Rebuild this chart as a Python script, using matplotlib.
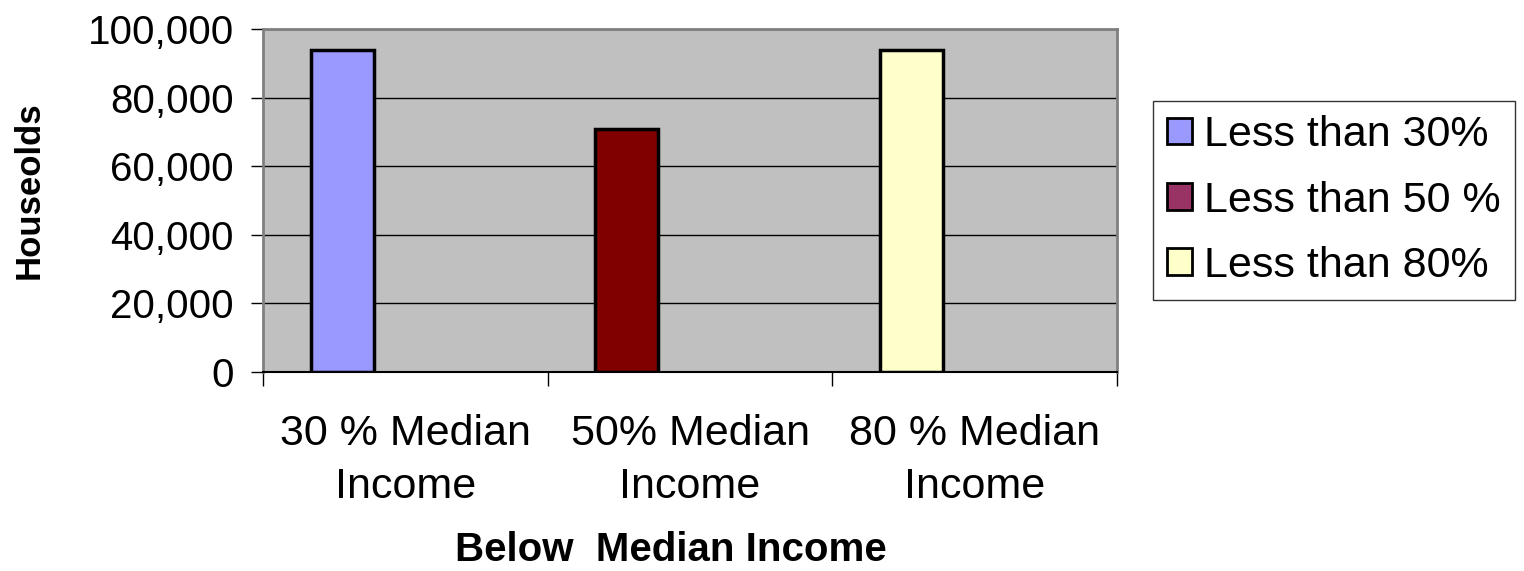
import numpy as np
import matplotlib.pyplot as plt
from matplotlib.patches import Patch
from matplotlib.ticker import FuncFormatter

plt.rcParams['font.family'] = ['Liberation Sans', 'DejaVu Sans']

categories = ['30 % Median\nIncome', '50% Median\nIncome', '80 % Median\nIncome']
series_names = ['Less than 30%', 'Less than 50 %', 'Less than 80%']
households = [94000, 71000, 94000]
bar_colors = ['#9999FF', '#800000', '#FFFFCC']
legend_colors = ['#9999FF', '#993366', '#FFFFCC']

fig = plt.figure(figsize=(15.24, 5.71), dpi=100)
ax = fig.add_axes([0.1726, 0.3485, 0.5604, 0.6005])
ax.set_facecolor('#C0C0C0')

x = np.arange(len(categories))
w = 0.222
ax.bar(x - w, households, width=w, color=bar_colors, edgecolor='black',
       linewidth=2.5, zorder=3)

ax.set_xlim(-0.5, 2.5)
ax.set_ylim(0, 100000)
ax.set_yticks(np.arange(0, 100001, 20000))
ax.yaxis.set_major_formatter(FuncFormatter(lambda v, p: f'{int(v):,}'))
ax.grid(axis='y', color='black', linewidth=1, zorder=1)
ax.tick_params(axis='y', labelsize=29, length=9, width=1, pad=12)

ax.set_xticks([-0.5, 0.5, 1.5, 2.5])
ax.set_xticklabels([])
ax.set_xticks(x, minor=True)
ax.set_xticklabels(categories, minor=True, linespacing=1.42)
ax.tick_params(axis='x', which='major', length=10, width=1)
ax.tick_params(axis='x', which='minor', length=0, labelsize=31, pad=30)

for s in ['top', 'right', 'left']:
    ax.spines[s].set_color('#808080')
    ax.spines[s].set_linewidth(2)
ax.spines['bottom'].set_color('black')
ax.spines['bottom'].set_linewidth(1.5)

ax.set_ylabel('Houseolds', fontsize=25, fontweight='bold')
ax.yaxis.set_label_coords(-0.255, 0.53)
ax.set_xlabel('Below  Median Income', fontsize=29, fontweight='bold')
ax.xaxis.label.set_va('baseline')
ax.xaxis.set_label_coords(0.478, -0.551)

handles = [Patch(facecolor=c, edgecolor='black', linewidth=2) for c in legend_colors]
leg = fig.legend(handles, series_names, loc='upper left',
                 bbox_to_anchor=(0.7566, 0.8231), fontsize=31, frameon=True,
                 fancybox=False, edgecolor='black', handlelength=0.58,
                 handleheight=0.58, handletextpad=0.28, labelspacing=0.59,
                 borderpad=0.33, borderaxespad=0)
leg.get_frame().set_linewidth(1)

fig.savefig('out.png', dpi=100)
